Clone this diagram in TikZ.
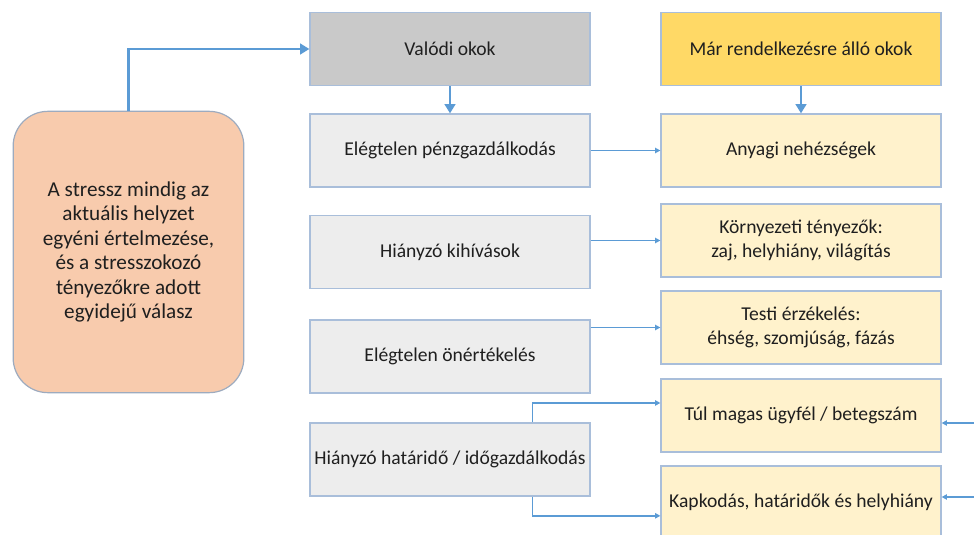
\documentclass[tikz,border=0pt]{standalone}
\usepackage{fontspec}
\setmainfont{Carlito}
\usetikzlibrary{arrows.meta}
\definecolor{linkblue}{HTML}{5B9BD5}
\definecolor{boxedge}{HTML}{A9BEDA}
\definecolor{textgray}{HTML}{1F1F1F}
\definecolor{peach}{HTML}{F8CBAD}
\definecolor{midgray}{HTML}{C9C9C9}
\definecolor{lightgray}{HTML}{EDEDED}
\definecolor{gold}{HTML}{FFD966}
\definecolor{cream}{HTML}{FFF2CC}
\begin{document}
\begin{tikzpicture}[x=0.75pt,y=-0.75pt,
    cause/.style={draw=boxedge, line width=0.9pt, fill=lightgray, text=textgray,
      minimum width=210pt, minimum height=54.75pt, inner sep=0pt, align=center,
      font=\fontsize{14.7}{18.5}\selectfont},
    given/.style={cause, fill=cream},
    bold link/.style={draw=linkblue, line width=2.2pt, -{Triangle[length=7pt,width=8pt]}},
    thin link/.style={draw=linkblue, line width=1.1pt, -{Triangle[length=4pt,width=4pt]}}]
    \clip (0,0) rectangle (974,535);

    % Left box
    \node[draw=boxedge!70!gray, line width=0.9pt, fill=peach, rounded corners=26pt,
      minimum width=173pt, minimum height=211pt, align=center, text=textgray,
      font=\fontsize{15.9}{18.4}\selectfont] (stress) at (128.5,252)
      {A stressz mindig az\\aktuális helyzet\\egyéni értelmezése,\\és a stresszokozó\\tényezőkre adott\\egyidejű válasz};

    % Real causes
    \node[cause, fill=midgray] (real) at (450,49) {Valódi okok};
    \node[cause] (money) at (450,150.5) {Elégtelen pénzgazdálkodás};
    \node[cause] (challenge) at (450,252) {Hiányzó kihívások};
    \node[cause] (esteem) at (450,356.5) {Elégtelen önértékelés};
    \node[cause] (deadline) at (450,459.5) {Hiányzó határidő / időgazdálkodás};

    % Given causes
    \node[given, fill=gold] (ready) at (801,49) {Már rendelkezésre álló okok};
    \node[given] (finance) at (801,150.5) {Anyagi nehézségek};
    \node[given] (env) at (801,240.5) {Környezeti tényezők:\\zaj, helyhiány, világítás};
    \node[given] (body) at (801,327.5) {Testi érzékelés:\\éhség, szomjúság, fázás};
    \node[given] (load) at (801,415.5) {Túl magas ügyfél / betegszám};
    \node[given] (rush) at (801,502.5) {Kapkodás, határidők és helyhiány};

    % Thick links
    \draw[bold link] (stress.north) |- (real.west);
    \draw[bold link] (real) -- (money);
    \draw[bold link] (ready) -- (finance);

    % Thin links
    \draw[thin link] (money.east) -- (finance.west);
    \draw[thin link] (challenge.east |- env.west) -- (env.west);
    \draw[thin link] (esteem.east |- body.west) -- (body.west);
    \draw[thin link] ([xshift=62pt]deadline.north) |- ([yshift=9.4pt]load.west);
    \draw[thin link] ([xshift=62pt]deadline.south) |- ([yshift=-10pt]rush.west);

    % Incoming from the right
    \coordinate (fromA) at (974,423);
    \coordinate (fromB) at (974,497);
    \draw[thin link] (fromA) -- (load.east |- fromA);
    \draw[thin link] (fromB) -- (rush.east |- fromB);
\end{tikzpicture}
\end{document}
